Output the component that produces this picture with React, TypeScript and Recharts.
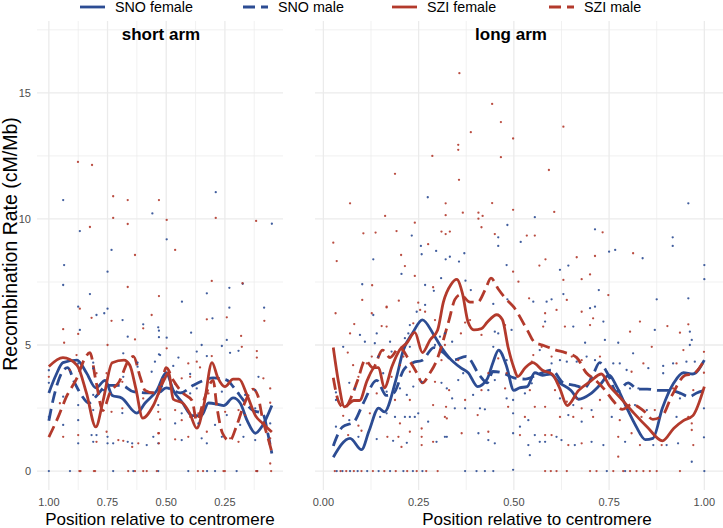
import React from 'react';
import { ComposedChart, Line, Scatter, XAxis, YAxis, CartesianGrid } from 'recharts';

const BLUE = '#2C4C93';
const RED = '#B33A2C';
const FONT = '"Liberation Sans", Arial, Helvetica, sans-serif';

const yTicks = [0, 5, 10, 15];
const yMinor = [2.5, 7.5, 12.5, 17.5];
const shortTicks = [1, 0.75, 0.5, 0.25];
const shortMinor = [0.875, 0.625, 0.375, 0.125];
const longTicks = [0, 0.25, 0.5, 0.75, 1];
const longMinor = [0.125, 0.375, 0.625, 0.875];

const seriesNames = ['SNO female', 'SNO male', 'SZI female', 'SZI male'];

// ---- smoothed lines: [position, rate] ----
const shortSnoFemale = [[1.0,3.1],[0.97,3.8],[0.94,4.3],[0.88,4.4],[0.84,3.9],[0.80,3.3],[0.76,3.6],[0.73,3.0],[0.69,2.9],[0.625,2.3],[0.59,2.7],[0.54,3.2],[0.50,3.9],[0.47,3.2],[0.43,2.7],[0.39,2.2],[0.35,2.2],[0.32,2.7],[0.28,2.65],[0.255,2.6],[0.215,2.9],[0.185,2.7],[0.155,2.0],[0.12,1.5],[0.09,1.8],[0.05,2.6]];
const shortSnoMale = [[1.0,2.0],[0.98,2.9],[0.945,3.9],[0.92,4.1],[0.89,3.5],[0.86,3.0],[0.83,2.7],[0.80,2.95],[0.75,3.4],[0.69,3.4],[0.64,3.15],[0.58,3.1],[0.535,3.1],[0.50,3.3],[0.44,3.1],[0.385,3.4],[0.34,3.6],[0.30,3.7],[0.24,3.6],[0.215,3.35],[0.17,2.8],[0.13,2.4],[0.09,2.3],[0.065,1.4],[0.05,0.7]];
const shortSziFemale = [[1.0,4.15],[0.94,4.5],[0.88,4.2],[0.84,3.1],[0.80,1.75],[0.77,2.75],[0.73,4.3],[0.68,4.4],[0.655,4.2],[0.63,3.3],[0.60,2.1],[0.555,2.6],[0.51,3.6],[0.49,3.9],[0.47,2.85],[0.43,2.7],[0.40,2.3],[0.37,1.7],[0.34,2.6],[0.305,4.3],[0.28,3.7],[0.25,3.35],[0.215,3.65],[0.19,3.65],[0.155,3.0],[0.12,2.2],[0.09,1.9],[0.05,1.55]];
const shortSziMale = [[1.0,1.35],[0.96,2.15],[0.925,2.95],[0.88,3.7],[0.845,4.5],[0.825,4.7],[0.80,3.6],[0.77,2.4],[0.74,3.1],[0.70,3.55],[0.66,4.4],[0.64,4.55],[0.61,3.7],[0.59,3.2],[0.555,3.1],[0.525,3.3],[0.50,4.1],[0.47,3.6],[0.43,3.1],[0.39,2.8],[0.37,2.0],[0.34,2.8],[0.30,3.6],[0.285,2.6],[0.26,1.5],[0.23,1.2],[0.20,1.8],[0.17,2.6],[0.13,3.25],[0.11,3.0],[0.09,2.1],[0.06,1.1],[0.05,0.75]];

const longSnoFemale = [[0.026,0.55],[0.07,1.3],[0.10,0.85],[0.12,1.6],[0.145,2.5],[0.16,2.35],[0.19,3.6],[0.21,4.8],[0.235,5.5],[0.26,6.0],[0.29,5.4],[0.31,4.9],[0.33,4.5],[0.36,4.1],[0.38,3.9],[0.405,3.35],[0.43,3.65],[0.445,4.3],[0.46,4.8],[0.48,4.2],[0.50,3.2],[0.515,3.3],[0.535,3.35],[0.555,3.9],[0.575,3.8],[0.595,3.85],[0.62,3.5],[0.65,3.2],[0.67,2.85],[0.70,3.05],[0.725,3.4],[0.75,3.8],[0.77,3.35],[0.795,2.55],[0.82,1.8],[0.845,1.25],[0.865,1.3],[0.89,2.5],[0.92,3.5],[0.945,3.9],[0.97,3.85],[1.0,4.4]];
const longSnoMale = [[0.026,1.0],[0.05,1.75],[0.08,1.95],[0.105,2.7],[0.14,3.6],[0.165,3.0],[0.185,3.1],[0.21,4.0],[0.235,4.3],[0.26,4.4],[0.29,4.9],[0.315,4.7],[0.34,4.4],[0.375,4.55],[0.41,3.8],[0.43,3.5],[0.445,3.95],[0.47,3.9],[0.50,3.7],[0.53,3.65],[0.565,3.85],[0.60,4.0],[0.63,3.5],[0.66,3.4],[0.685,3.3],[0.71,3.9],[0.725,4.3],[0.745,3.9],[0.77,3.15],[0.80,3.5],[0.825,3.25],[0.85,3.25],[0.88,3.2],[0.91,3.2],[0.935,3.1],[0.96,2.95],[0.98,3.1],[1.0,3.2]];
const longSziFemale = [[0.026,4.9],[0.04,3.5],[0.055,2.55],[0.08,2.8],[0.095,2.8],[0.115,3.6],[0.135,4.1],[0.145,4.1],[0.16,3.3],[0.18,4.15],[0.20,4.8],[0.22,5.1],[0.24,5.5],[0.26,4.7],[0.28,5.2],[0.30,5.6],[0.315,6.7],[0.335,7.4],[0.35,7.6],[0.365,7.05],[0.38,5.9],[0.395,5.6],[0.415,5.65],[0.43,5.9],[0.455,6.2],[0.47,6.0],[0.485,4.9],[0.50,4.1],[0.51,3.75],[0.53,4.1],[0.55,4.3],[0.575,4.0],[0.60,3.85],[0.62,3.3],[0.64,2.6],[0.67,3.2],[0.70,3.55],[0.73,3.85],[0.75,3.4],[0.78,2.9],[0.815,2.3],[0.85,1.75],[0.89,1.2],[0.92,1.7],[0.945,2.0],[0.97,2.2],[1.0,3.35]];
const longSziMale = [[0.026,3.7],[0.04,2.75],[0.055,2.5],[0.075,3.0],[0.09,3.6],[0.11,4.4],[0.13,4.1],[0.155,4.8],[0.175,4.5],[0.20,4.9],[0.225,4.4],[0.245,3.9],[0.26,3.5],[0.28,3.9],[0.295,4.3],[0.315,5.2],[0.33,6.0],[0.345,6.8],[0.36,7.0],[0.385,6.7],[0.405,6.7],[0.425,7.2],[0.44,7.65],[0.46,7.2],[0.475,6.9],[0.50,6.5],[0.535,5.6],[0.555,5.1],[0.575,5.0],[0.61,4.8],[0.635,4.7],[0.665,4.5],[0.69,3.9],[0.715,3.6],[0.74,3.2],[0.76,2.8],[0.785,2.45],[0.81,2.65],[0.84,2.4],[0.865,2.05],[0.89,2.2],[0.915,3.0],[0.95,3.8],[0.97,3.85],[1.0,4.4]];

// ---- raw window points: [position, rate] ----
const shortSnoPoints = [[0.939,10.75],[0.289,11.06],[0.559,10.22],[0.050,9.81],[0.868,9.52],[0.498,9.19],[0.733,8.77],[0.935,8.17],[0.75,7.91],[0.939,7.38],[0.825,7.02],[0.433,6.72],[0.327,7.05],[0.231,7.27],[0.174,7.43],[0.875,6.52],[0.75,6.44],[0.231,6.48],[0.083,6.48],[0.797,6.19],[0.764,6.26],[0.686,5.99],[0.598,5.82],[0.534,5.70],[0.531,5.31],[0.868,5.6],[0.664,5.33],[1.0,4.0],[1.0,3.5],[0.875,4.27],[0.811,4.3],[0.811,4.07],[0.683,4.67],[0.683,3.74],[0.622,4.3],[0.622,4.14],[0.562,3.94],[0.531,4.63],[0.939,2.95],[0.875,2.62],[0.811,3.02],[0.811,2.42],[0.768,3.21],[0.687,2.3],[1.0,2.15],[0.939,1.83],[0.875,2.02],[0.875,1.1],[0.818,1.43],[0.811,1.16],[0.797,1.43],[0.75,1.36],[0.75,1.1],[0.726,1.1],[0.664,1.16],[0.645,1.1],[0.583,1.03],[0.555,1.36],[0.303,6.06],[0.394,5.49],[0.531,5.57],[0.498,5.29],[0.242,5.2],[0.349,5.0],[0.263,4.96],[0.37,4.74],[0.192,4.77],[0.526,4.6],[0.448,4.5],[0.327,4.56],[0.228,4.69],[0.548,4.34],[0.47,4.17],[0.107,3.74],[0.398,3.85],[0.519,3.35],[0.37,3.28],[0.398,3.08],[0.263,3.15],[0.192,3.08],[0.164,3.02],[0.121,3.21],[0.534,2.62],[0.434,2.29],[0.242,2.22],[0.121,2.49],[0.462,1.89],[0.363,1.89],[0.292,1.83],[0.185,1.83],[0.057,1.89],[0.534,1.1],[0.434,1.23],[0.349,1.3],[0.327,1.1],[0.263,1.36],[0.171,1.36],[0.121,1.23],[1.0,0],[0.91,0],[0.726,0],[0.64,0],[0.534,0],[0.406,0],[0.326,0],[0.292,0],[0.2,0],[0.113,0]];
const shortSziPoints = [[0.876,12.26],[0.816,12.14],[0.726,10.9],[0.664,10.75],[0.531,10.75],[0.726,10.04],[0.498,9.96],[0.289,10.04],[0.117,9.92],[0.825,9.68],[0.664,9.8],[0.462,8.77],[0.633,8.57],[0.306,7.54],[0.664,7.3],[0.531,6.94],[0.868,6.44],[0.175,7.45],[0.818,6.08],[0.733,5.96],[0.598,5.66],[0.562,6.19],[0.939,5.63],[0.935,5.09],[0.875,5.44],[0.633,5.22],[0.75,5.0],[1.0,3.74],[0.91,4.0],[0.882,4.6],[0.797,3.88],[0.754,3.88],[0.687,3.54],[0.531,3.35],[0.953,2.69],[0.733,2.35],[0.687,2.49],[0.598,2.88],[0.531,3.07],[0.875,1.43],[0.939,1.36],[0.797,1.16],[0.754,1.56],[0.704,1.23],[0.683,1.2],[0.645,0.96],[0.619,1.1],[0.531,1.5],[0.531,1.1],[0.327,6.02],[0.242,6.1],[0.082,5.96],[0.181,5.36],[0.178,4.93],[0.498,4.87],[0.114,4.76],[0.306,4.56],[0.114,4.5],[0.37,4.34],[0.406,4.27],[0.356,4.11],[0.086,3.68],[0.398,3.74],[0.434,3.68],[0.462,3.45],[0.32,3.08],[0.057,3.28],[0.057,2.71],[0.534,2.35],[0.462,2.42],[0.434,2.02],[0.398,2.15],[0.363,2.29],[0.249,2.35],[0.192,2.42],[0.164,2.22],[0.526,2.05],[0.534,1.5],[0.462,1.26],[0.406,1.36],[0.327,1.56],[0.228,1.3],[0.192,1.16],[0.057,1.3],[0.057,0.3],[0.87,0],[0.865,0],[0.808,0],[0.803,0],[0.662,0],[0.633,0],[0.598,0],[0.583,0],[0.54,0],[0.365,0],[0.343,0],[0.256,0],[0.25,0],[0.117,0],[0.112,0],[0.053,0]];

const longSnoPoints = [[0.274,10.86],[0.958,10.62],[0.483,9.76],[0.555,10.07],[0.232,9.34],[0.459,9.27],[0.459,8.93],[0.518,9.09],[0.713,9.59],[0.917,9.27],[0.917,8.93],[0.131,8.4],[0.256,8.93],[0.258,8.6],[0.296,8.73],[0.321,8.4],[0.332,8.5],[0.356,8.31],[0.37,8.64],[0.205,7.82],[0.481,8.17],[0.621,7.98],[0.643,8.15],[0.75,8.7],[0.766,8.77],[0.838,8.44],[1.0,8.17],[1.0,7.61],[0.102,7.41],[0.267,7.38],[0.29,7.15],[0.309,7.65],[0.373,7.55],[0.387,7.18],[0.483,6.81],[0.551,6.72],[0.586,6.72],[0.599,6.81],[0.63,7.02],[0.723,7.18],[0.875,6.81],[0.958,6.85],[0.446,6.63],[0.052,4.93],[0.096,5.4],[0.109,5.13],[0.068,3.5],[0.083,3.28],[0.033,3.12],[0.033,2.82],[0.068,2.02],[0.033,1.76],[0.092,1.36],[0.028,1.03],[0.131,6.19],[0.14,5.46],[0.175,5.13],[0.135,5.07],[0.144,4.54],[0.179,4.74],[0.157,3.88],[0.166,3.15],[0.149,2.15],[0.166,2.29],[0.188,2.15],[0.14,1.27],[0.183,1.2],[0.219,1.12],[0.214,2.15],[0.227,2.15],[0.24,2.15],[0.249,2.29],[0.201,3.28],[0.219,3.02],[0.236,3.35],[0.258,3.54],[0.227,4.93],[0.214,5.27],[0.223,5.46],[0.227,5.79],[0.245,6.32],[0.267,6.59],[0.293,5.0],[0.306,5.33],[0.31,3.5],[0.324,3.28],[0.275,1.96],[0.297,1.16],[0.324,1.36],[0.319,5.46],[0.338,5.13],[0.367,3.88],[0.354,3.61],[0.338,2.88],[0.345,2.49],[0.372,2.49],[0.407,1.5],[0.433,1.23],[0.45,1.1],[0.319,1.36],[0.411,2.49],[0.424,2.45],[0.393,3.02],[0.433,3.21],[0.45,3.61],[0.446,4.93],[0.45,5.53],[0.459,5.46],[0.494,5.6],[0.481,4.4],[0.481,2.88],[0.498,2.82],[0.498,2.29],[0.498,1.5],[0.516,1.76],[0.538,2.02],[0.538,1.03],[0.542,0.63],[0.555,1.43],[0.568,1.16],[0.582,1.16],[0.612,1.36],[0.625,1.23],[0.66,1.03],[0.529,3.08],[0.547,3.48],[0.568,4.8],[0.582,5.93],[0.599,4.27],[0.621,4.4],[0.639,4.34],[0.665,4.34],[0.621,2.88],[0.656,2.62],[0.643,2.22],[0.678,1.96],[0.656,5.73],[0.7,6.46],[0.713,6.52],[0.735,5.93],[0.739,5.2],[0.774,5.09],[0.687,5.09],[0.87,5.6],[0.962,5.53],[0.967,5.2],[0.962,5.0],[0.953,4.34],[0.999,2.49],[0.999,1.34],[0.967,0.37],[0.813,4.67],[0.853,4.08],[0.918,4.27],[0.892,4.17],[0.892,3.88],[0.975,4.34],[0.761,4.27],[0.778,4.27],[0.796,4.01],[0.713,4.4],[0.691,4.54],[0.805,3.28],[0.827,3.28],[0.883,3.21],[0.936,3.08],[0.936,2.88],[0.905,3.08],[0.704,2.42],[0.757,2.15],[0.818,2.62],[0.849,2.42],[0.883,2.15],[0.927,2.15],[0.792,1.16],[0.866,1.03],[0.901,1.03],[0.931,1.1],[0.735,1.03],[0.704,1.16],[0.035,0],[0.05,0],[0.07,0],[0.09,0],[0.115,0],[0.145,0],[0.175,0],[0.21,0],[0.235,0],[0.26,0],[0.372,0],[0.402,0],[0.424,0],[0.446,0],[0.498,0.05],[0.744,0],[0.792,0],[1.0,0]];
const longSziPoints = [[0.357,15.78],[0.443,14.56],[0.466,13.84],[0.387,13.44],[0.63,13.66],[0.498,13.19],[0.354,12.94],[0.354,12.74],[0.286,12.5],[0.466,12.45],[0.188,11.79],[0.592,11.94],[0.356,11.55],[0.07,10.62],[0.321,10.62],[0.443,10.63],[0.162,10.12],[0.321,10.15],[0.366,10.25],[0.407,10.25],[0.418,10.12],[0.407,10.01],[0.498,10.36],[0.606,10.28],[0.24,9.85],[0.415,9.67],[0.026,9.06],[0.035,8.33],[0.105,9.43],[0.137,9.46],[0.192,9.52],[0.31,9.5],[0.321,9.4],[0.332,9.5],[0.45,9.4],[0.534,9.34],[0.555,9.34],[0.733,9.47],[0.204,8.57],[0.275,9.0],[0.214,8.13],[0.24,7.74],[0.498,7.91],[0.567,8.15],[0.583,8.4],[0.665,8.48],[0.713,8.53],[0.813,8.64],[0.128,7.37],[0.288,7.29],[0.512,7.51],[0.54,6.85],[0.678,7.61],[0.7,7.8],[0.748,6.98],[0.102,6.79],[0.166,6.49],[0.198,6.76],[0.249,6.68],[0.064,4.7],[0.032,6.26],[0.07,5.46],[0.081,5.83],[0.078,4.2],[0.092,3.74],[0.052,2.19],[0.092,1.8],[0.1,1.6],[0.065,1.43],[0.127,6.26],[0.153,5.75],[0.166,6.52],[0.166,5.73],[0.127,4.54],[0.114,4.27],[0.179,3.74],[0.14,3.08],[0.188,2.82],[0.122,2.29],[0.201,1.89],[0.168,1.36],[0.197,1.36],[0.205,0.96],[0.227,1.56],[0.258,1.69],[0.258,1.36],[0.258,1.03],[0.227,2.82],[0.201,4.2],[0.21,4.54],[0.227,3.94],[0.254,6.39],[0.267,6.32],[0.236,5.86],[0.293,5.99],[0.319,5.0],[0.31,4.4],[0.293,3.54],[0.288,2.62],[0.322,2.55],[0.324,2.09],[0.288,1.16],[0.361,5.46],[0.372,5.89],[0.385,5.99],[0.354,4.4],[0.33,3.21],[0.372,2.82],[0.319,2.15],[0.363,1.5],[0.433,1.56],[0.405,2.22],[0.415,3.21],[0.433,3.88],[0.459,4.47],[0.415,5.4],[0.477,5.79],[0.481,3.88],[0.477,3.28],[0.485,2.55],[0.516,1.43],[0.529,2.15],[0.582,1.43],[0.599,1.43],[0.643,1.03],[0.542,3.21],[0.547,4.34],[0.551,4.6],[0.573,4.93],[0.577,5.73],[0.582,6.26],[0.612,6.39],[0.599,4.54],[0.652,4.54],[0.678,4.4],[0.608,3.21],[0.639,2.75],[0.665,2.88],[0.621,2.15],[0.656,2.15],[0.555,2.55],[0.582,2.55],[0.639,6.79],[0.634,5.73],[0.63,7.58],[0.678,6.32],[0.708,6.06],[0.7,5.79],[0.805,5.53],[0.831,5.93],[0.862,4.93],[0.903,5.75],[0.936,5.49],[0.958,5.82],[0.945,4.8],[0.999,4.73],[0.999,3.9],[0.84,4.27],[0.927,4.27],[0.809,3.94],[0.726,4.54],[0.918,3.28],[0.971,3.21],[0.678,2.49],[0.708,2.15],[0.726,2.82],[0.778,2.02],[0.835,2.15],[0.87,2.42],[0.958,2.15],[0.967,1.89],[0.967,1.63],[0.774,1.36],[0.809,1.5],[0.831,1.03],[0.888,1.03],[0.971,1.03],[0.678,1.1],[0.774,0.57],[0.03,0],[0.045,0],[0.06,0],[0.08,0],[0.10,0],[0.13,0],[0.16,0],[0.19,0],[0.22,0],[0.245,0],[0.27,0],[0.30,0],[0.582,0],[0.597,0],[0.612,0],[0.639,0],[0.7,0],[0.717,0],[0.761,0],[0.787,0],[0.805,0],[0.822,0],[0.84,0],[0.857,0],[0.875,0],[0.936,0]];

const toXY = (arr: number[][]) => arr.map(([x, y]) => ({ x, y }));

const tickStyle = { fill: '#4D4D4D', fontSize: 11, fontFamily: FONT };

const dot = (color: string) => (props: any) => {
  if (props.cx == null || props.cy == null) return <g />;
  return <circle cx={props.cx} cy={props.cy} r={1.15} fill={color} fillOpacity={0.9} />;
};

type PanelProps = {
  left: number;
  width: number;
  margin: { top: number; right: number; bottom: number; left: number };
  domain: [number, number];
  reversed: boolean;
  ticks: number[];
  minor: number[];
  showY: boolean;
  lines: number[][][];
  snoPts: number[][];
  sziPts: number[][];
};

function Panel(p: PanelProps) {
  const colors = [BLUE, BLUE, RED, RED];
  const dashes = [undefined, '12 6', undefined, '12 6'];
  return (
    <div style={{ position: 'absolute', left: p.left, top: 0 }}>
      <ComposedChart width={p.width} height={528} margin={p.margin}>
        <CartesianGrid stroke="#EBEBEB" strokeWidth={0.7} horizontalValues={yMinor} verticalValues={p.minor} />
        <CartesianGrid stroke="#EBEBEB" strokeWidth={1.3} horizontalValues={yTicks} verticalValues={p.ticks} />
        <XAxis
          type="number"
          dataKey="x"
          domain={p.domain}
          reversed={p.reversed}
          ticks={p.ticks}
          interval={0}
          allowDataOverflow
          tickLine={false}
          axisLine={false}
          tickSize={0}
          tickMargin={8}
          height={38}
          tick={tickStyle}
          tickFormatter={(v: number) => v.toFixed(2)}
        />
        <YAxis
          type="number"
          dataKey="y"
          domain={[-0.75, 17.85]}
          ticks={yTicks}
          interval={0}
          allowDataOverflow
          hide={!p.showY}
          width={37}
          tickLine={false}
          axisLine={false}
          tickSize={0}
          tickMargin={6}
          tick={tickStyle}
        />
        <Scatter data={toXY(p.snoPts)} fill={BLUE} shape={dot(BLUE)} isAnimationActive={false} />
        <Scatter data={toXY(p.sziPts)} fill={RED} shape={dot(RED)} isAnimationActive={false} />
        {p.lines.map((l, i) => (
          <Line
            key={seriesNames[i]}
            name={seriesNames[i]}
            data={toXY(l)}
            dataKey="y"
            type="monotone"
            stroke={colors[i]}
            strokeWidth={2.8}
            strokeDasharray={dashes[i]}
            dot={false}
            activeDot={false}
            isAnimationActive={false}
          />
        ))}
      </ComposedChart>
    </div>
  );
}

const legendItems = [
  { name: seriesNames[0], color: BLUE, dash: undefined, x: 80 },
  { name: seriesNames[1], color: BLUE, dash: '12 6', x: 243 },
  { name: seriesNames[2], color: RED, dash: undefined, x: 392 },
  { name: seriesNames[3], color: RED, dash: '12 6', x: 549 },
];

export default function App() {
  return (
    <div style={{ position: 'absolute', left: 0, top: 0, width: 723, height: 528, background: '#fff', overflow: 'hidden', fontFamily: FONT }}>
      <Panel
        left={0}
        width={300}
        margin={{ top: 21, right: 17, bottom: 0, left: 0 }}
        domain={[0.0025, 1.0505]}
        reversed
        ticks={shortTicks}
        minor={shortMinor}
        showY
        lines={[shortSnoFemale, shortSnoMale, shortSziFemale, shortSziMale]}
        snoPts={shortSnoPoints}
        sziPts={shortSziPoints}
      />
      <Panel
        left={300}
        width={423}
        margin={{ top: 21, right: 0, bottom: 0, left: 15 }}
        domain={[-0.022, 1.049]}
        reversed={false}
        ticks={longTicks}
        minor={longMinor}
        showY={false}
        lines={[longSnoFemale, longSnoMale, longSziFemale, longSziMale]}
        snoPts={longSnoPoints}
        sziPts={longSziPoints}
      />
      <svg width={723} height={528} style={{ position: 'absolute', left: 0, top: 0, pointerEvents: 'none' }}>
        {legendItems.map((it) => (
          <g key={it.name}>
            <line x1={it.x} x2={it.x + 25} y1={7} y2={7} stroke={it.color} strokeWidth={2.8} strokeDasharray={it.dash} />
            <text x={it.x + 35} y={12} fontSize={14.3} fill="#000" fontFamily={FONT}>{it.name}</text>
          </g>
        ))}
        <text x={161} y={40} fontSize={17} fontWeight="bold" textAnchor="middle" fill="#000" fontFamily={FONT}>short arm</text>
        <text x={511} y={40} fontSize={17} fontWeight="bold" textAnchor="middle" fill="#000" fontFamily={FONT}>long arm</text>
        <text x={160} y={525} fontSize={17} textAnchor="middle" fill="#000" fontFamily={FONT}>Position relative to centromere</text>
        <text x={537} y={525} fontSize={17} textAnchor="middle" fill="#000" fontFamily={FONT}>Position relative to centromere</text>
        <text transform="translate(17,244) rotate(-90)" fontSize={19.5} textAnchor="middle" fill="#000" fontFamily={FONT}>Recombination Rate (cM/Mb)</text>
      </svg>
    </div>
  );
}
